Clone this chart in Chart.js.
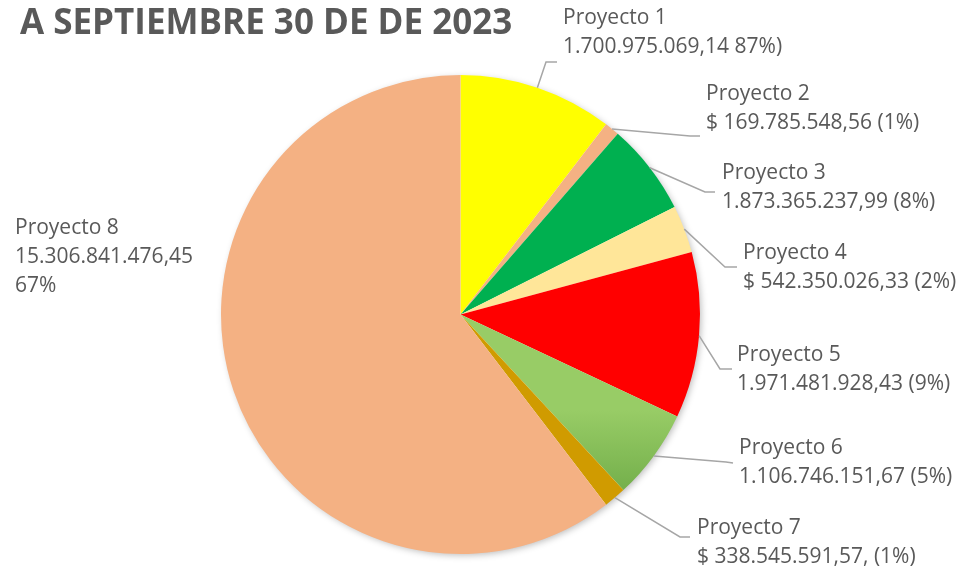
<!DOCTYPE html>
<html>
<head>
<meta charset="utf-8">
<script src="https://cdn.jsdelivr.net/npm/chart.js@4"></script>
<style>
  html, body { margin: 0; padding: 0; background: #fff; }
  #wrap { width: 962px; height: 568px; position: relative; }
</style>
</head>
<body>
<div id="wrap"><canvas id="chart" width="962" height="568"></canvas></div>
<script>
const titleText = "A SEPTIEMBRE 30 DE DE 2023";

const categories = ["Proyecto 1", "Proyecto 2", "Proyecto 3", "Proyecto 4",
  "Proyecto 5", "Proyecto 6", "Proyecto 7", "Proyecto 8"];

// slice sizes (percent of the circle)
const sliceValues = [10.4, 1.0, 6.2, 3.2, 11.2, 6.1, 1.5, 60.4];

// label text exactly as printed
const valueLabels = [
  ["1.700.975.069,14 87%)"],
  ["$ 169.785.548,56 (1%)"],
  ["1.873.365.237,99 (8%)"],
  ["$ 542.350.026,33 (2%)"],
  ["1.971.481.928,43 (9%)"],
  ["1.106.746.151,67 (5%)"],
  ["$ 338.545.591,57, (1%)"],
  ["15.306.841.476,45", "67%"],
];

const sliceColors = ["#FFFF00", "#F4B183", "#00B050", "#FFE699",
  "#FF0000", "gradient", "#D09B00", "#F4B183"];

// label placement: text x, first baseline y, elbow point, end of leader
const labelLayout = [
  { x: 563, y: 24, elbow: [546, 62], end: [557, 62] },
  { x: 706, y: 100, elbow: [690, 136], end: [700, 136] },
  { x: 722, y: 179, elbow: [705, 192], end: [715, 192] },
  { x: 743, y: 259, elbow: [725, 267], end: [737, 267] },
  { x: 737, y: 361, elbow: [720, 369], end: [732, 369] },
  { x: 739, y: 454, elbow: [726, 462], end: [733, 463] },
  { x: 697, y: 534, elbow: [680, 537], end: [690, 537] },
  { x: 15, y: 234, elbow: null, end: null },
];

const textColor = "#595959";
const leaderColor = "#A6A6A6";
const labelFont = "21px 'Open Sans'";
const lineGap = 29;

function sliceColor(ctx) {
  const c = sliceColors[ctx.dataIndex];
  if (c !== "gradient") return c;
  const area = ctx.chart.chartArea;
  if (!area) return "#8CC35A";
  const cy = (area.top + area.bottom) / 2;
  const r = (area.bottom - area.top) / 2;
  const g = ctx.chart.ctx.createLinearGradient(0, cy + 0.4 * r, 0, cy + 0.75 * r);
  g.addColorStop(0, "#98CC66");
  g.addColorStop(1, "#72AE4A");
  return g;
}

const pieShadow = {
  id: "pieShadow",
  beforeDatasetsDraw(chart) {
    const arc = chart.getDatasetMeta(0).data[0];
    if (!arc) return;
    const ctx = chart.ctx;
    ctx.save();
    ctx.shadowColor = "rgba(0,0,0,0.28)";
    ctx.shadowBlur = 7;
    ctx.shadowOffsetX = 2;
    ctx.shadowOffsetY = 2;
    ctx.fillStyle = "#fff";
    ctx.beginPath();
    ctx.arc(arc.x, arc.y, arc.outerRadius - 1, 0, Math.PI * 2);
    ctx.fill();
    ctx.restore();
  },
};

const titleAndLabels = {
  id: "titleAndLabels",
  afterDraw(chart) {
    const ctx = chart.ctx;
    ctx.save();
    ctx.fillStyle = textColor;
    ctx.textBaseline = "alphabetic";
    ctx.textAlign = "left";
    ctx.font = "bold 35px 'Open Sans'";
    ctx.fillText(titleText, 20, 34);

    const arcs = chart.getDatasetMeta(0).data;
    arcs.forEach((arc, i) => {
      const lay = labelLayout[i];
      if (lay.elbow) {
        const mid = (arc.startAngle + arc.endAngle) / 2;
        const sx = arc.x + Math.cos(mid) * arc.outerRadius;
        const sy = arc.y + Math.sin(mid) * arc.outerRadius;
        ctx.strokeStyle = leaderColor;
        ctx.lineWidth = 1.5;
        ctx.beginPath();
        ctx.moveTo(sx, sy);
        ctx.lineTo(lay.elbow[0], lay.elbow[1]);
        ctx.lineTo(lay.end[0], lay.end[1]);
        ctx.stroke();
      }
      ctx.fillStyle = textColor;
      ctx.font = labelFont;
      const lines = [categories[i]].concat(valueLabels[i]);
      lines.forEach((t, k) => ctx.fillText(t, lay.x, lay.y + k * lineGap));
    });
    ctx.restore();
  },
};

new Chart(document.getElementById("chart"), {
  type: "pie",
  data: {
    labels: categories,
    datasets: [{
      data: sliceValues,
      backgroundColor: sliceColor,
      borderWidth: 0,
    }],
  },
  options: {
    responsive: false,
    animation: false,
    events: [],
    layout: { padding: { left: 221, top: 75, right: 262, bottom: 14 } },
    plugins: {
      legend: { display: false },
      tooltip: { enabled: false },
      title: { display: false },
    },
  },
  plugins: [pieShadow, titleAndLabels],
});
</script>
</body>
</html>
